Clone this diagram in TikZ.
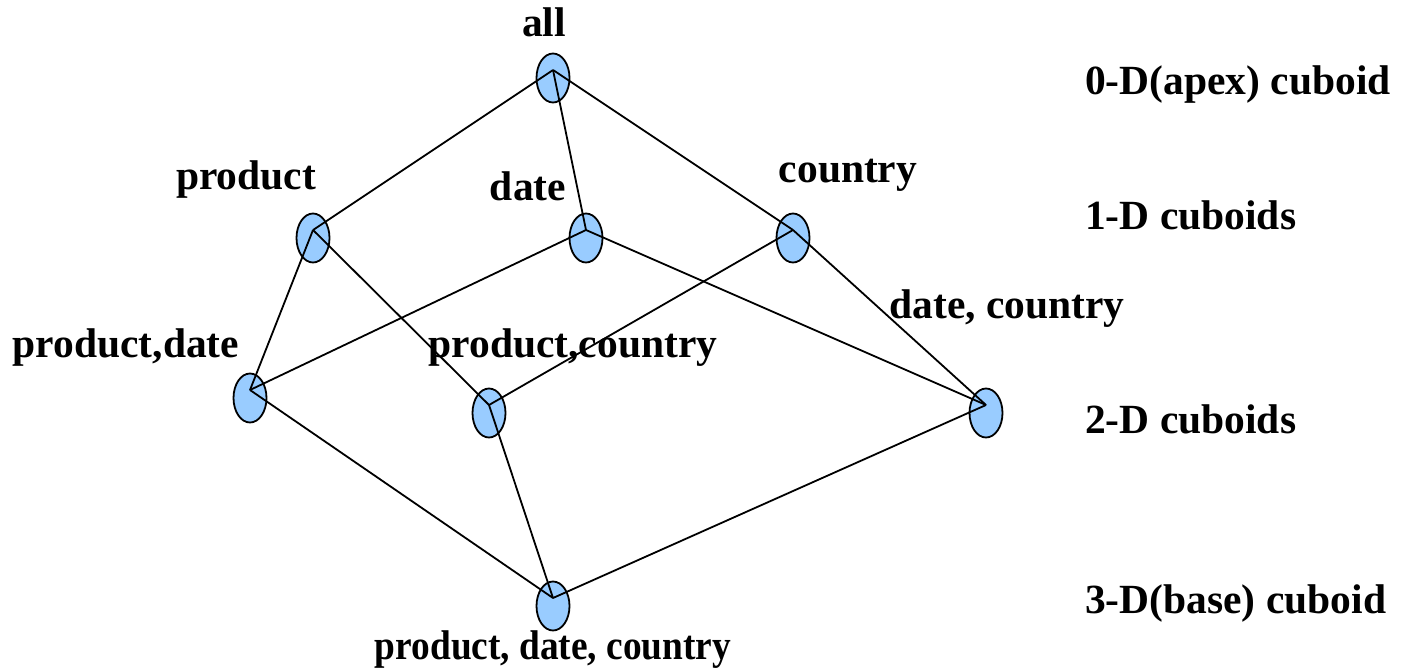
\documentclass[tikz,border=0pt]{standalone}
\usepackage{fontspec}
\setmainfont{Liberation Serif}
\usetikzlibrary{shapes.geometric}
\definecolor{nodeblue}{HTML}{99CCFF}
\tikzset{
  cub/.style={ellipse, draw=black, line width=1.8pt, fill=nodeblue,
    minimum width=33pt, minimum height=49pt, inner sep=0pt},
  lbl/.style={anchor=base, inner sep=0pt,
    font=\fontsize{41.5}{46}\selectfont\bfseries},
  lvl/.style={lbl, anchor=base west},
  edge/.style={draw=black, line width=1.8pt}
}
\begin{document}
\begin{tikzpicture}[x=1pt,y=-1pt]
\useasboundingbox (0,0) rectangle (1415,669);
% cuboid nodes
\node[cub] (all) at (553,78) {};
\node[cub] (p) at (313,238) {};
\node[cub] (d) at (586,238) {};
\node[cub] (c) at (793,238) {};
\node[cub] (pd) at (250,398) {};
\node[cub] (pc) at (489,413) {};
\node[cub] (dc) at (986,413) {};
\node[cub] (pdc) at (553,606) {};
% junction points
\foreach \n in {all,p,d,c,pd,pc,dc,pdc}
  \coordinate (j-\n) at ([yshift=8pt]\n.center);
% connectors
\draw[edge] (j-all) -- (j-p);
\draw[edge] (j-all) -- (j-d);
\draw[edge] (j-all) -- (j-c);
\draw[edge] (j-p) -- (j-pd);
\draw[edge] (j-p) -- (j-pc);
\draw[edge] (j-d) -- (j-pd);
\draw[edge] (j-d) -- (j-dc);
\draw[edge] (j-c) -- (j-pc);
\draw[edge] (j-c) -- (j-dc);
\draw[edge] (j-pd) -- (j-pdc);
\draw[edge] (j-pc) -- (j-pdc);
\draw[edge] (j-dc) -- (j-pdc);
% node labels
\node[lbl] (tall) at (544,37) {all};
\node[lbl] (tp) at (246,189) {product};
\node[lbl] (td) at (528,200) {date};
\node[lbl] (tc) at (848,182) {country};
\node[lbl] (tpd) at (126,357) {product,date};
\node[lbl] (tpc) at (573,357) {product,country};
\node[lbl] (tdc) at (1007,318) {date, country};
\node[lbl] (tpdc) at (553,659) {\scalebox{0.9}[1]{product, date, country}};
% level labels
\node[lvl] (l0) at (1085,94) {0-D(apex) cuboid};
\node[lvl] (l1) at (1085,229) {1-D cuboids};
\node[lvl] (l2) at (1085,433) {2-D cuboids};
\node[lvl] (l3) at (1085,613) {3-D(base) cuboid};
\end{tikzpicture}
\end{document}
